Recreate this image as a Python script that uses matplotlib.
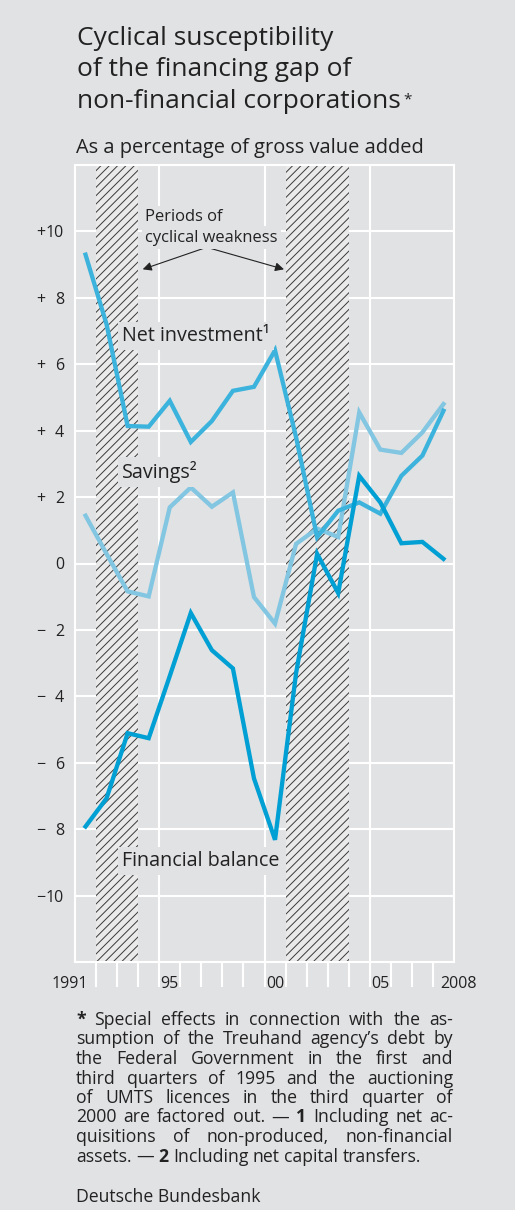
import matplotlib
matplotlib.use('Agg')
import matplotlib.pyplot as plt

# data
years = list(range(1991, 2009))
net_investment = [9.3, 7.2, 4.14, 4.12, 4.9, 3.66, 4.29, 5.2, 5.32, 6.42,
                  3.8, 0.79, 1.59, 1.84, 1.5, 2.64, 3.25, 4.6]
savings = [1.44, 0.29, -0.84, -0.99, 1.69, 2.29, 1.71, 2.14, -1.01, -1.81,
           0.59, 1.05, 0.8, 4.55, 3.43, 3.33, 3.95, 4.8]
financial_balance = [-7.92, -7.07, -5.11, -5.26, -3.39, -1.49, -2.61, -3.16, -6.47, -8.32,
                     -3.3, 0.29, -0.89, 2.64, 1.84, 0.61, 0.65, 0.14]
weakness_periods = [(1992, 1994), (2001, 2004)]
y_ticks = list(range(-10, 11, 2))
x_labels = ['1991', '95', '00', '05', '2008']
x_label_pos = [1991.62, 1995.5, 2000.5, 2005.48, 2008.33]

BG = '#e1e2e4'
TXT = '#222222'
C_FB = '#009fd4'
C_NI = '#3cb3dc'
C_SAV = '#82c6e2'

plt.rcParams['font.family'] = ['Open Sans', 'DejaVu Sans']
plt.rcParams['hatch.linewidth'] = 0.7
plt.rcParams['hatch.color'] = '#3a3a3a'

W, H = 515, 1210
fig = plt.figure(figsize=(W / 100, H / 100), dpi=100, facecolor=BG)


def fx(x):
    return x / W


def fy(y):
    return 1 - y / H


ax = fig.add_axes([fx(75), fy(962), (454 - 75) / W, (962 - 165) / H])
ax.set_facecolor(BG)
ax.set_xlim(1991, 2009)
ax.set_ylim(-12, 12)

# grid and frame
for v in y_ticks:
    ax.axhline(v, color='white', lw=1.5, zorder=1)
for v in [1995, 2000, 2005]:
    ax.axvline(v, color='white', lw=1.5, zorder=1)
for s in ax.spines.values():
    s.set_color('white')
    s.set_linewidth(1.5)

# periods of cyclical weakness
for a, b in weakness_periods:
    ax.axvspan(a, b, facecolor='#eaeaea', edgecolor='#3a3a3a', hatch='////', lw=0, zorder=2)

x = [yr + 0.5 for yr in years]
ax.plot(x, savings, color=C_SAV, lw=3.1, zorder=3, solid_joinstyle='miter')
ax.plot(x, net_investment, color=C_NI, lw=3.1, zorder=3, solid_joinstyle='miter')
ax.plot(x, financial_balance, color=C_FB, lw=3.1, zorder=3, solid_joinstyle='miter')

# ticks
ax.set_yticks([])
ax.set_xticks(range(1992, 2009))
ax.set_xticklabels([])
ax.tick_params(axis='x', direction='out', length=18, width=1.5, color='white')

for v in y_ticks:
    ax.text(-11 / 379, v - 0.18, str(abs(v)), transform=ax.get_yaxis_transform(),
            ha='right', va='baseline', fontsize=11.5, color=TXT)
    sign = '+' if v > 0 else ('\u2212' if v < 0 else '')
    if sign:
        ax.text(-39 / 379, v - 0.18, sign, transform=ax.get_yaxis_transform(),
                ha='left', va='baseline', fontsize=11.5, color=TXT)

for lab, pos in zip(x_labels, x_label_pos):
    ha = 'right' if lab == '1991' else ('left' if lab == '2008' else 'center')
    ax.text(pos, -26 / 797, lab, transform=ax.get_xaxis_transform(),
            ha=ha, va='baseline', fontsize=11.5, color=TXT)

# titles
title_lines = ['Cyclical susceptibility', 'of the financing gap of', 'non-financial corporations']
title_texts = []
for i, t in enumerate(title_lines):
    title_texts.append(fig.text(fx(77), fy(45 + i * 31.5), t, fontsize=19, color=TXT, va='baseline'))
fig.text(fx(76), fy(153), 'As a percentage of gross value added', fontsize=14.4, color=TXT, va='baseline')

# series labels
box = dict(boxstyle='square,pad=0.2', fc=BG, ec='none')
fig.text(fx(122), fy(341), 'Net investment\u00b9', fontsize=14.2, color=TXT, va='baseline', bbox=box)
fig.text(fx(122), fy(478), 'Savings\u00b2', fontsize=14.2, color=TXT, va='baseline', bbox=box)
fig.text(fx(122), fy(866), 'Financial balance', fontsize=14.2, color=TXT, va='baseline', bbox=box)

fig.text(fx(145), fy(221), 'Periods of', fontsize=11.9, color=TXT, va='baseline', bbox=box)
fig.text(fx(145), fy(241.7), 'cyclical weakness', fontsize=11.9, color=TXT, va='baseline', bbox=box)

for tx, ty in [(142.7, 269.3), (284, 269.3)]:
    ax.annotate('', xy=(tx, H - ty), xytext=(206.7, H - 247.3),
                xycoords='figure pixels', textcoords='figure pixels', annotation_clip=False,
                arrowprops=dict(arrowstyle='-|>', color='#222222', lw=0.8, mutation_scale=13,
                                shrinkA=0, shrinkB=0), zorder=6)

renderer = fig.canvas.get_renderer()
ext = title_texts[2].get_window_extent(renderer)
fig.text((ext.x1 + 3) / W, fy(103), '*', fontsize=11, color=TXT, va='baseline')

# footnote, justified
foot_lines = [
    '* Special effects in connection with the as-',
    'sumption of the Treuhand agency\u2019s debt by',
    'the Federal Government in the first and',
    'third quarters of 1995 and the auctioning',
    'of UMTS licences in the third quarter of',
    '2000 are factored out. \u2014 1 Including net ac-',
    'quisitions of non-produced, non-financial',
    'assets. \u2014 2 Including net capital transfers.',
]
fx0, fx1 = 76, 453


def word_widths(words, size):
    out = []
    for w in words:
        t = fig.text(0, 0, w, fontsize=size, fontweight='bold' if w in ('*', '1', '2') else 'normal')
        out.append(t.get_window_extent(renderer).width)
        t.remove()
    return out


fsize = 12.7
scale = 1.0
for line in foot_lines[:-1]:
    words = line.split(' ')
    need = sum(word_widths(words, fsize)) + 3.5 * (len(words) - 1)
    scale = max(scale, need / (fx1 - fx0))
fsize = fsize / scale

for i, line in enumerate(foot_lines):
    words = line.split(' ')
    widths = word_widths(words, fsize)
    if i == len(foot_lines) - 1:
        gap = fsize * 0.36
    else:
        gap = (fx1 - fx0 - sum(widths)) / (len(words) - 1)
    xp = fx0
    for w, wd in zip(words, widths):
        fig.text(xp / W, fy(1025 + i * 19.5), w, fontsize=fsize, color=TXT,
                 fontweight='bold' if w in ('*', '1', '2') else 'normal', va='baseline')
        xp += wd + gap

fig.text(fx(76), fy(1202), 'Deutsche Bundesbank', fontsize=fsize, color=TXT, va='baseline')

fig.savefig('out.png', dpi=100, facecolor=BG)
